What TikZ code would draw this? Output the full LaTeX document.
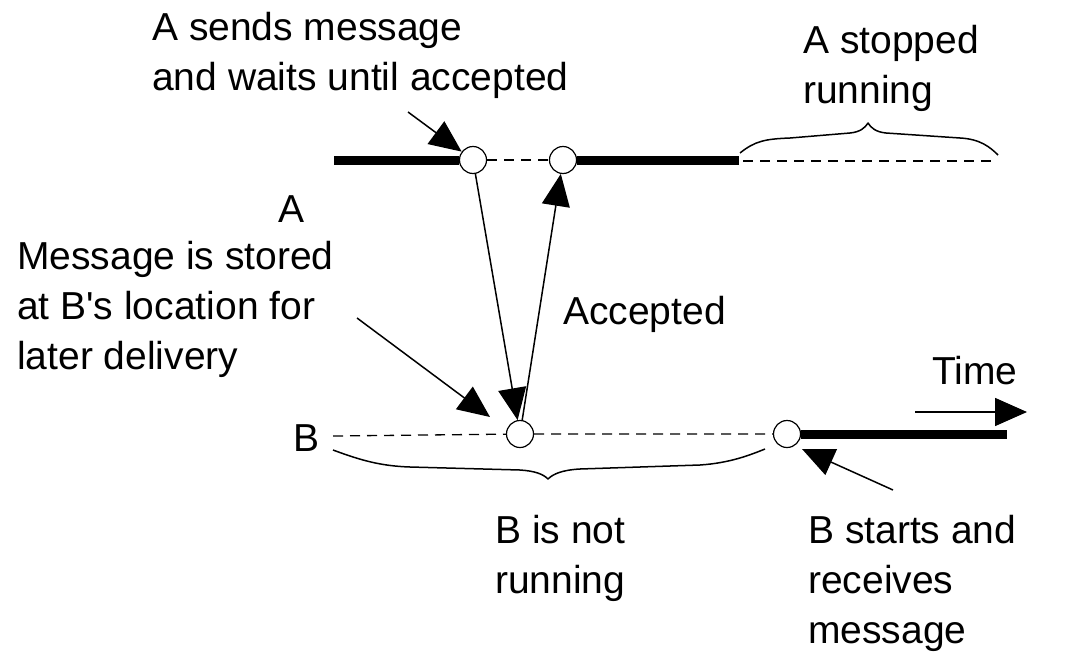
\documentclass[tikz,border=0pt]{standalone}
\usepackage{fontspec}
\setmainfont{Liberation Sans}
\usetikzlibrary{arrows.meta}
\begin{document}
\begin{tikzpicture}[x=1pt,y=-1pt,
  lbl/.style={font=\fontsize{39}{50}\selectfont, inner sep=0pt, anchor=base west, align=left},
  ev/.style={circle, draw, line width=1.2pt, minimum size=27pt, inner sep=0pt},
  run/.style={line width=9pt},
  idle/.style={line width=1.3pt, dash pattern=on 10pt off 7pt},
  msg/.style={line width=1.5pt, -{Triangle[length=32pt,width=28pt]}},
  brace/.style={line width=1.5pt, line join=round}
]
\useasboundingbox (0,0) rectangle (1067,653);

% events on the two time lines
\node[ev] (c1) at (473,160) {};
\node[ev] (c2) at (563,160) {};
\node[ev] (c3) at (520,434) {};
\node[ev] (c4) at (787,434) {};

% time line of A
\coordinate (a0) at (334,160);
\coordinate (a1) at (739,160);
\coordinate (a2) at (743,161);
\coordinate (a3) at (995,161);
\draw[run] (a0) -- (c1.west);
\draw[idle] (c1) -- (c2);
\draw[run] (c2.east) -- (a1);
\draw[idle] (a2) -- (a3);

% time line of B
\coordinate (b0) at (333,436);
\coordinate (b1) at (1007,434);
\draw[idle] (b0) -- (c3) -- (c4);
\draw[run] (c4.east) -- (b1);

% braces
\draw[brace] (740,153) .. controls (755,141) and (765,139) .. (790,138)
  -- (850,133) .. controls (860,132) and (865,128) .. (868,123)
  .. controls (871,128) and (876,132) .. (886,133)
  -- (960,138) .. controls (980,139) and (990,147) .. (998,155);
\draw[brace] (333,450) .. controls (360,460) and (380,466) .. (410,467)
  -- (520,470) .. controls (535,471) and (543,474) .. (548,479)
  .. controls (553,474) and (562,470) .. (580,469)
  -- (700,465) .. controls (730,463) and (750,455) .. (765,449);

% messages
\coordinate (sendTail) at (408,112);
\draw[msg] (sendTail) -- (c1);
\draw[msg] (c1) -- (c3);
\draw[msg] (c3) -- (c2);
\coordinate (storeTail) at (357,318);
\coordinate (storeTip) at (490,417);
\draw[msg] (storeTail) -- (storeTip);
\coordinate (startTail) at (893,490);
\coordinate (startTip) at (802,449);
\draw[msg] (startTail) -- (startTip);
\coordinate (t0) at (915,412);
\coordinate (t1) at (1027,412);
\draw[msg] (t0) -- (t1);

% labels (anchored at the baseline of their last line)
\node[lbl] (lsend) at (152,90) {A sends message\\and waits until accepted};
\node[lbl] (lstop) at (803,103) {A stopped\\running};
\node[lbl] (la) at (278,222) {A};
\node[lbl] (lstore) at (17,369) {Message is stored\\at B\textquotesingle s location for\\later delivery};
\node[lbl] (lacc) at (563,324) {Accepted};
\node[lbl] (ltime) at (932,384) {Time};
\node[lbl] (lb) at (293,451) {B};
\node[lbl] (lnot) at (495,593) {B is not\\running};
\node[lbl] (lstart) at (808,643) {B starts and\\receives\\message};
\end{tikzpicture}
\end{document}
